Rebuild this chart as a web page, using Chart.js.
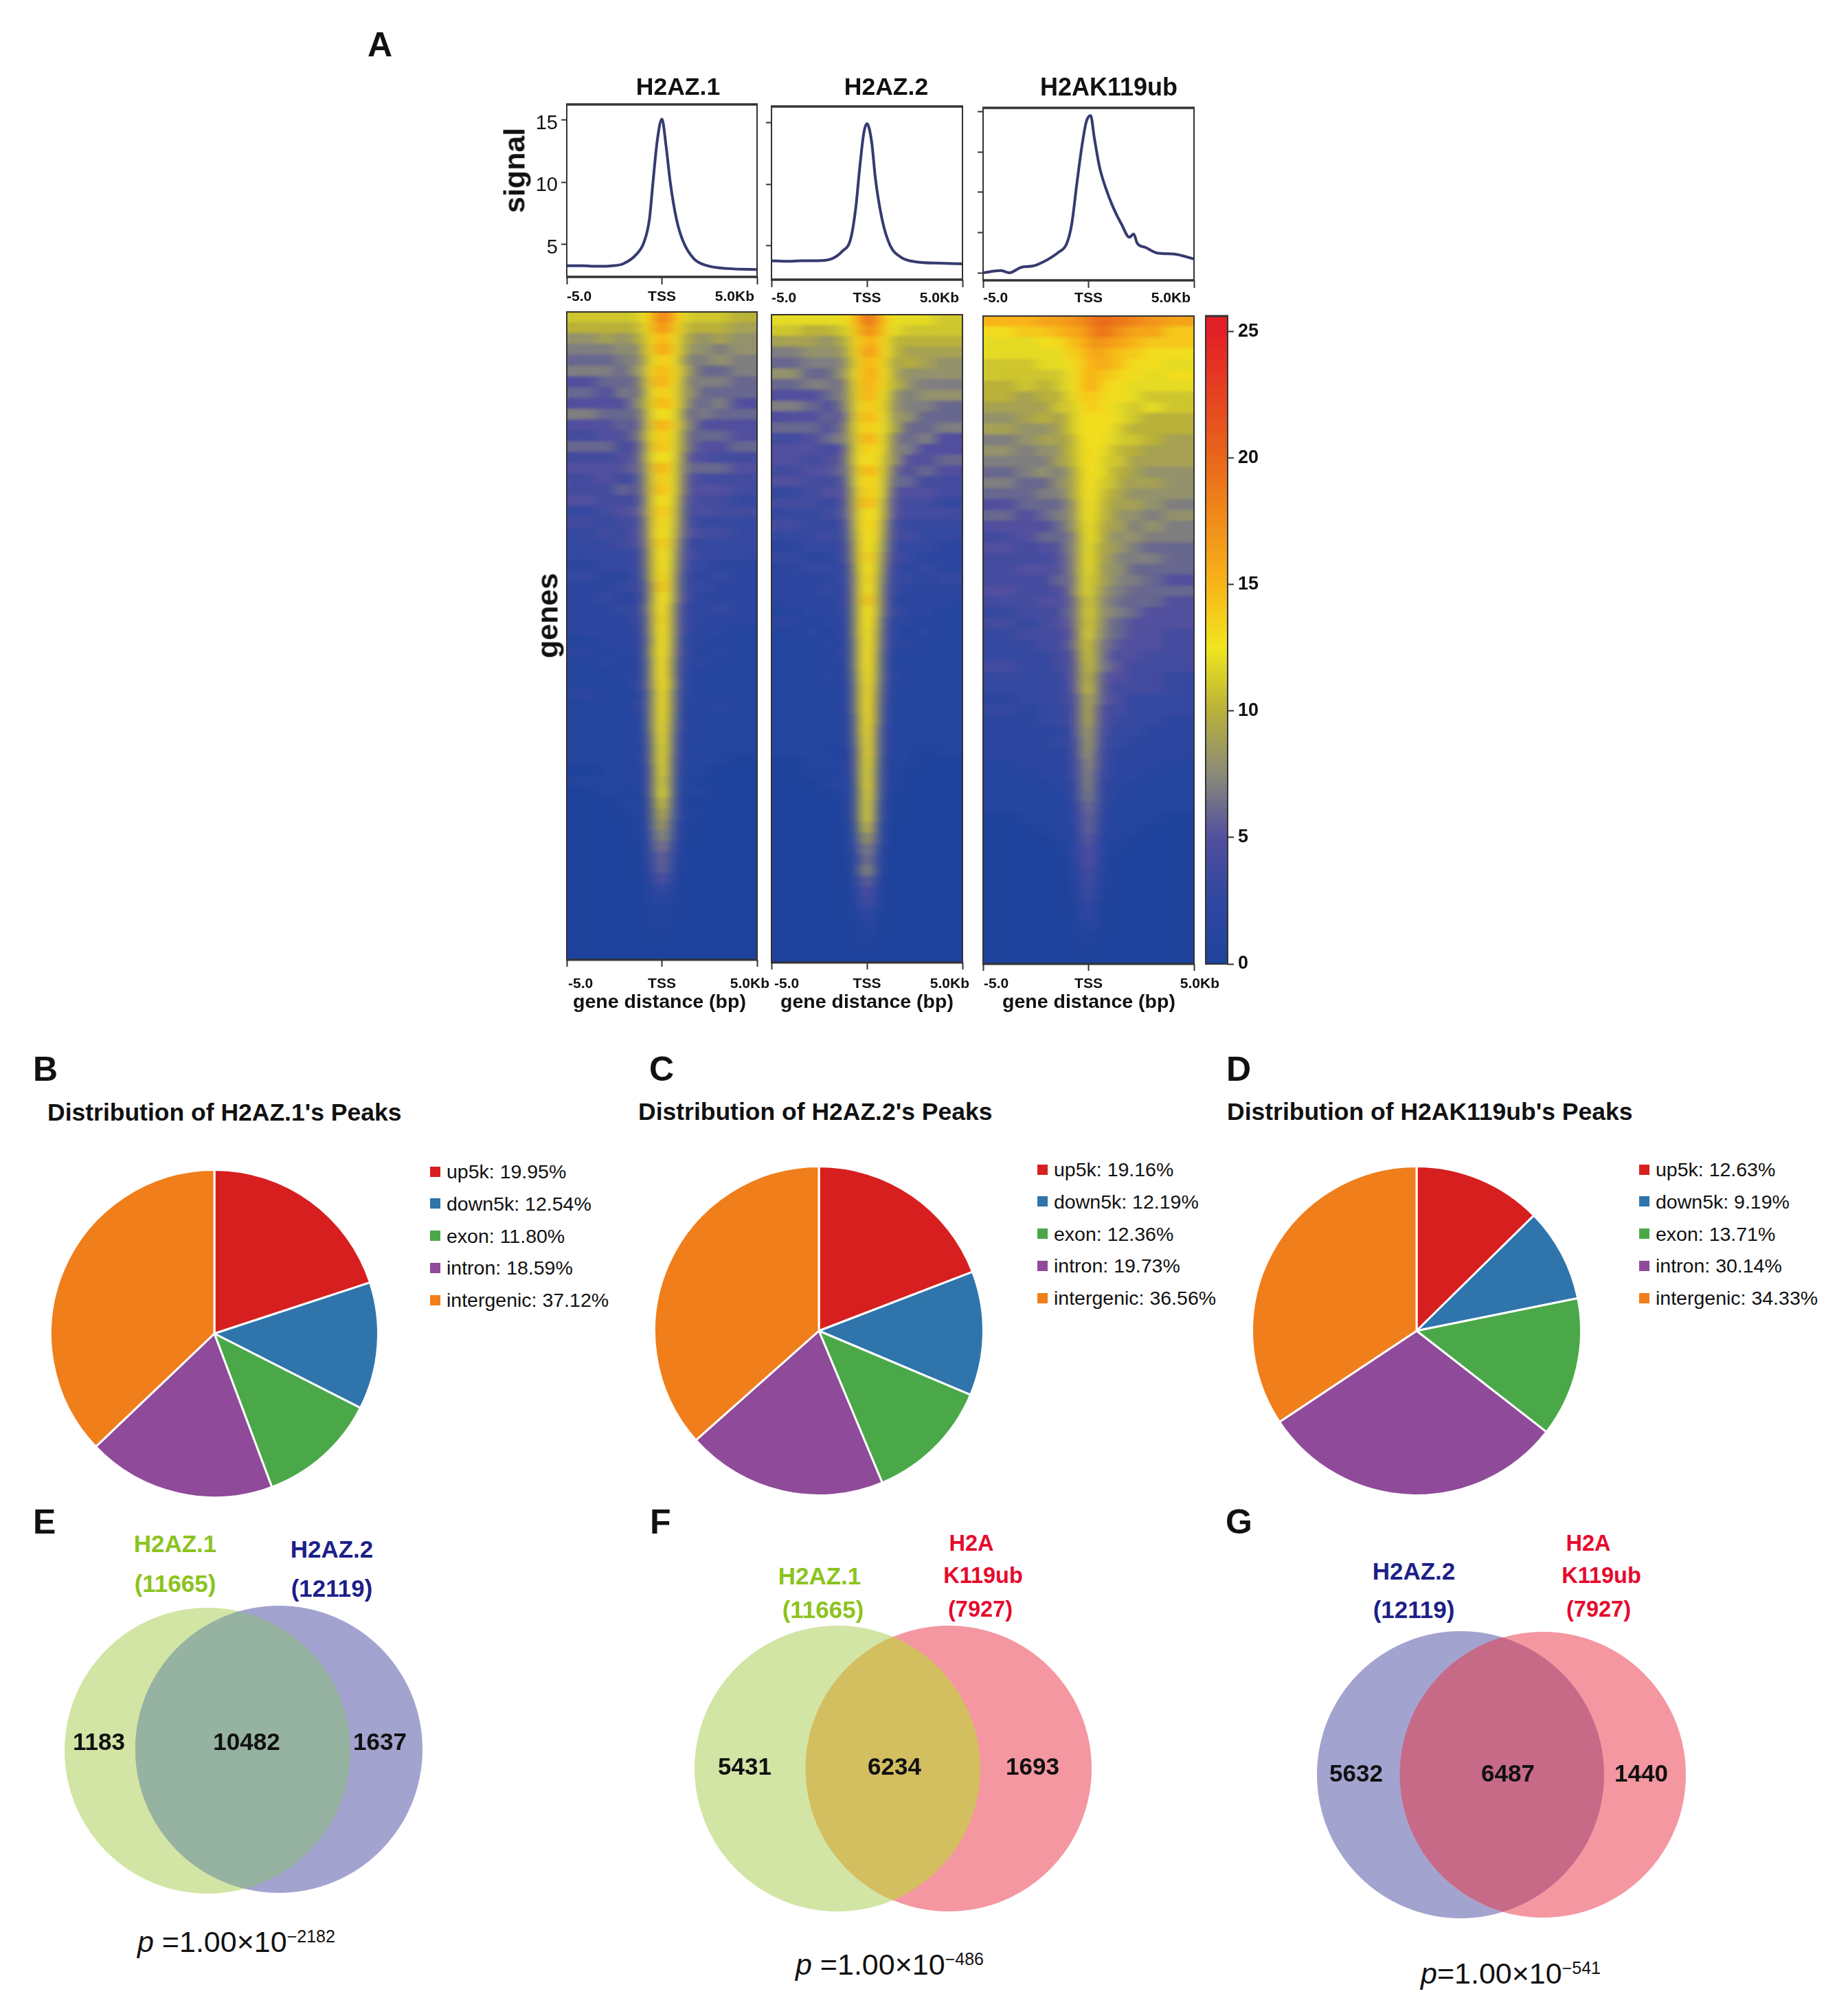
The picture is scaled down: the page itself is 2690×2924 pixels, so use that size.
<!DOCTYPE html>
<html>
<head>
<meta charset="utf-8">
<script src="https://cdn.jsdelivr.net/npm/chart.js@4"></script>
<style>
  html, body { margin: 0; background: #fff; }
  body { position: relative; width: 2690px; height: 2924px; overflow: hidden; font-family: "Liberation Sans", Arial, sans-serif; color: #111; }
  .t { position: absolute; white-space: nowrap; line-height: 1; }
  .t sup { font-size: 25px; position: relative; top: -14px; vertical-align: baseline; line-height: 0; }
  .sw { position: absolute; width: 15px; height: 15px; }
</style>
</head>
<body>
<script>
// profile plots, x in bp from the TSS
const h2az1X = [-5000,-4200,-3400,-2600,-2040,-1350,-940,-660,-470,-250,0,220,440,770,1130,1690,2380,3480,5000];
const h2az1Y = [3.3,3.3,3.25,3.3,3.45,4.2,5.2,7.0,10.0,13.3,15.1,12.9,10.0,7.0,5.2,3.85,3.3,3.07,3.0];
const h2az2X = [-5000,-4200,-3400,-2600,-1950,-1270,-850,-580,-390,-165,0,250,440,800,1210,1760,2590,3800,5000];
const h2az2Y = [3.8,3.75,3.8,3.8,3.9,4.6,5.6,8.2,11.2,14.2,14.95,13.4,10.5,7.1,5.05,4.1,3.7,3.6,3.55];
const k119X = [-5000,-4150,-3760,-3160,-2660,-2040,-1420,-1045,-800,-550,-300,-100,100,270,520,820,1190,1570,1940,2140,2310,2690,3310,4050,5000];
const k119Y = [3.0,3.17,3.0,3.43,3.5,3.9,4.54,5.14,6.6,9.7,12.6,14.3,14.73,13.1,10.9,9.3,7.8,6.6,5.65,5.9,5.2,4.9,4.46,4.4,4.03];
const xTickValues = [-5000, 0, 5000];
const xTickLabels = ['-5.0', 'TSS', '5.0Kb'];

// heatmap bins (bp edges) and cell values, one row per block of genes
const binEdges = [-5000,-3500,-2500,-1800,-1300,-1000,-750,-500,-250,0,250,500,750,1000,1300,1800,2500,3500,5000];
const h2az1Rows = [
  [11,11,11,11,12,13,14,17,18,18,17,15,13,12,11,11,11,10],
  [10,10,10,10,11,12,14,16,17,17,16,14,13,11,10,10,10,9],
  [8,9,8,9,10,11,13,14,15,15,14,13,12,10,9,8,9,8],
  [7,7,8,7,9,11,13,15,16,16,15,13,12,10,8,8,7,8],
  [6,6,7,7,8,10,12,13,14,14,13,13,11,9,7,7,8,7],
  [7,7,6,8,8,11,13,14,15,15,14,13,12,10,8,6,6,7],
  [5,6,6,6,8,10,13,15,16,15,14,13,12,9,7,7,7,6],
  [6,5,7,6,7,10,12,13,14,14,13,13,11,9,8,6,6,6],
  [5,5,5,7,8,10,12,14,15,15,14,13,12,9,7,6,7,5],
  [7,6,6,6,7,9,12,13,13,13,13,12,11,8,6,7,6,6],
  [5,5,6,5,7,9,12,14,16,15,14,13,11,9,7,5,5,5],
  [4,5,5,6,7,10,12,13,14,14,13,12,11,8,6,6,6,5],
  [6,6,4,5,6,9,12,14,15,14,13,12,10,9,6,5,5,6],
  [4,4,5,5,7,9,12,13,13,13,13,12,10,8,5,5,4,4],
  [5,5,5,6,6,8,12,14,16,15,13,12,10,7,6,6,6,5],
  [4,5,4,4,6,8,11,13,14,14,13,12,10,7,5,4,4,4],
  [4,4,6,5,6,8,11,14,15,14,13,12,10,7,5,5,5,4],
  [5,4,4,4,5,8,11,13,13,13,13,12,9,6,5,4,4,3],
  [3,4,5,5,6,8,11,14,14,14,13,11,9,6,4,5,4,4],
  [4,3,4,4,5,7,11,13,14,13,12,11,9,6,4,3,3,3],
  [3,4,3,5,5,7,11,13,13,13,12,11,8,6,5,4,4,3],
  [3,3,4,4,5,7,10,13,14,14,12,10,8,5,3,3,3,3],
  [3,3,3,3,4,6,10,13,13,13,12,10,7,5,4,3,3,3],
  [2,3,3,3,4,6,10,12,13,13,12,9,7,5,3,3,2,2],
  [3,2,2,3,3,6,10,12,14,13,12,9,6,4,3,2,3,2],
  [2,2,3,3,4,5,9,12,15,14,12,9,6,4,3,3,2,2],
  [2,3,2,2,3,5,9,12,13,13,12,9,6,5,3,2,2,2],
  [2,2,3,2,4,6,9,12,13,13,11,8,5,4,2,2,3,2],
  [2,2,2,3,3,5,9,12,14,13,11,8,5,3,3,2,2,2],
  [2,2,2,2,3,5,9,12,13,13,11,8,5,4,2,2,2,1],
  [1,2,2,2,3,4,8,12,13,13,11,8,4,3,2,2,1,1],
  [2,1,2,2,2,5,9,12,13,13,11,7,5,4,2,1,2,1],
  [1,2,1,2,2,4,8,12,13,13,10,7,4,3,2,2,1,1],
  [1,1,2,1,2,4,8,12,13,13,10,7,4,2,2,1,1,1],
  [1,1,1,2,3,5,8,11,13,13,11,7,4,3,1,1,1,1],
  [2,1,1,1,2,3,7,11,13,12,10,6,4,2,2,1,1,1],
  [1,1,1,2,2,4,7,11,13,13,10,6,4,2,1,1,2,1],
  [1,1,1,1,2,3,7,11,13,12,10,6,3,2,1,1,1,1],
  [1,1,1,1,1,3,7,11,13,12,9,6,4,2,1,1,1,1],
  [1,1,1,1,2,3,6,11,13,12,9,5,3,2,1,1,1,1],
  [1,1,1,1,1,2,6,10,12,12,9,5,3,1,1,1,1,1],
  [1,1,1,1,1,3,6,10,13,12,8,5,3,2,1,1,1,0],
  [0,1,1,1,1,2,5,10,12,12,8,4,3,1,1,1,0,0],
  [1,1,1,1,1,2,5,10,12,11,8,4,2,1,1,0,0,0],
  [0,1,1,0,1,2,5,10,12,12,8,4,2,1,1,1,0,0],
  [0,0,1,1,1,1,4,9,11,11,7,4,2,1,0,0,0,0],
  [0,0,0,1,1,1,4,8,10,10,7,4,2,1,1,0,0,0],
  [0,0,0,0,1,1,4,8,9,9,6,3,2,1,0,0,0,0],
  [0,0,0,0,1,1,3,7,8,8,6,3,1,1,0,0,0,0],
  [0,0,0,0,0,1,3,6,7,7,5,3,1,0,0,0,0,0],
  [0,0,0,0,0,1,3,5,6,6,4,2,1,0,0,0,0,0],
  [0,0,0,0,0,1,2,5,6,6,3,2,1,0,0,0,0,0],
  [0,0,0,0,0,0,2,4,5,5,3,1,0,0,0,0,0,0],
  [0,0,0,0,0,0,1,3,3,3,2,1,0,0,0,0,0,0],
  [0,0,0,0,0,0,1,2,2,2,1,0,0,0,0,0,0,0],
  [0,0,0,0,0,0,0,1,1,1,1,0,0,0,0,0,0,0],
  [0,0,0,0,0,0,0,1,1,1,0,0,0,0,0,0,0,0],
  [0,0,0,0,0,0,0,0,1,0,0,0,0,0,0,0,0,0],
  [0,0,0,0,0,0,0,0,0,0,0,0,0,0,0,0,0,0],
  [0,0,0,0,0,0,0,0,0,0,0,0,0,0,0,0,0,0]
];
const h2az2Rows = [
  [12,12,12,12,13,13,15,17,19,19,18,16,14,13,12,12,12,11],
  [11,10,10,11,11,12,14,16,17,18,17,15,14,12,12,11,11,11],
  [9,9,8,9,10,11,13,14,15,16,15,14,13,12,10,10,10,10],
  [7,8,8,8,9,11,13,15,16,17,16,14,13,12,10,9,9,9],
  [6,7,7,7,8,10,12,14,15,15,14,14,13,11,9,10,9,8],
  [8,6,6,8,8,11,13,14,15,16,15,14,13,12,9,8,8,8],
  [6,7,7,6,8,10,12,14,15,16,14,14,13,11,10,8,7,7],
  [5,5,6,7,7,10,12,14,15,16,14,13,12,11,8,7,8,8],
  [7,6,5,6,8,9,12,13,14,14,14,13,12,10,8,7,7,6],
  [5,5,6,5,7,9,12,14,15,15,14,13,12,11,8,8,6,6],
  [6,6,5,6,7,10,12,13,14,14,13,13,12,11,9,6,6,7],
  [4,5,6,7,7,9,12,14,15,16,14,13,12,10,7,6,7,5],
  [5,5,4,5,6,9,12,13,14,14,13,13,12,10,7,7,5,5],
  [5,4,5,5,7,9,12,13,13,13,13,13,11,9,8,5,5,6],
  [4,5,5,6,6,8,12,14,15,15,14,13,11,9,6,5,6,5],
  [5,4,4,4,6,8,12,13,13,14,13,13,11,8,6,6,4,4],
  [3,4,5,5,5,8,11,13,14,14,13,13,11,8,5,5,5,4],
  [4,4,3,4,5,8,11,14,15,15,13,12,10,7,5,4,4,3],
  [3,3,4,4,6,7,11,13,13,13,13,12,10,7,5,4,4,4],
  [4,3,3,3,5,7,11,13,13,14,13,12,9,6,4,3,3,3],
  [3,3,4,3,4,7,10,13,13,13,13,11,9,6,4,4,3,3],
  [2,3,3,3,4,6,10,13,13,13,12,11,8,6,3,3,3,2],
  [3,2,2,3,4,6,10,13,14,14,12,10,8,5,4,3,2,2],
  [2,3,3,2,3,5,10,12,13,13,12,10,7,5,3,2,3,2],
  [2,2,2,3,3,5,9,12,13,14,12,9,7,4,3,3,2,3],
  [2,2,3,2,3,5,9,12,13,13,12,9,6,4,3,2,2,2],
  [2,2,2,2,3,5,9,12,14,15,12,9,6,4,2,2,2,2],
  [1,2,2,2,3,4,9,12,13,13,12,9,6,4,3,2,2,1],
  [2,1,2,2,2,4,9,12,13,13,12,8,5,3,2,2,1,1],
  [1,2,1,2,2,4,9,12,13,13,11,8,5,3,2,1,2,1],
  [1,1,2,1,2,4,8,12,13,13,11,8,5,3,2,2,1,1],
  [1,1,1,2,3,3,8,12,13,13,11,7,4,3,1,1,1,1],
  [1,1,1,1,2,4,8,12,13,13,11,7,4,2,1,1,1,1],
  [1,1,2,1,2,3,8,11,13,13,11,7,4,3,2,1,1,1],
  [1,1,1,1,2,3,7,11,13,13,10,7,4,2,1,1,1,1],
  [1,1,1,1,1,3,7,11,13,13,10,6,4,2,1,1,1,1],
  [1,1,1,1,2,3,7,11,13,13,10,6,3,2,1,1,1,1],
  [1,1,1,1,1,2,6,11,13,13,10,6,3,2,1,1,1,1],
  [1,1,1,1,1,3,6,11,13,13,9,5,3,2,1,1,1,1],
  [1,1,1,1,1,2,6,10,12,13,9,5,3,1,1,1,1,1],
  [1,1,1,0,1,2,5,10,13,13,9,5,3,1,1,1,0,1],
  [0,1,1,1,1,2,5,10,12,12,9,4,2,1,1,1,0,0],
  [0,1,0,1,1,2,5,10,12,12,8,4,2,1,1,0,0,0],
  [0,0,1,1,1,1,4,10,12,13,8,4,2,1,1,0,0,0],
  [0,0,0,1,1,1,4,9,12,12,8,4,2,1,0,0,0,0],
  [0,0,0,0,1,1,4,9,12,12,7,3,1,1,0,0,0,0],
  [0,0,0,0,1,1,4,9,12,12,7,3,1,1,0,0,0,0],
  [0,0,0,0,0,1,3,8,11,11,6,3,1,0,0,0,0,0],
  [0,0,0,0,0,1,3,7,9,9,6,3,1,0,0,0,0,0],
  [0,0,0,0,0,1,3,6,7,8,5,2,1,0,0,0,0,0],
  [0,0,0,0,0,0,2,5,7,7,4,2,0,0,0,0,0,0],
  [0,0,0,0,0,0,2,6,8,8,4,2,0,0,0,0,0,0],
  [0,0,0,0,0,0,2,4,6,6,3,1,0,0,0,0,0,0],
  [0,0,0,0,0,0,1,3,5,5,2,1,0,0,0,0,0,0],
  [0,0,0,0,0,0,1,3,4,4,2,1,0,0,0,0,0,0],
  [0,0,0,0,0,0,1,2,2,3,1,0,0,0,0,0,0,0],
  [0,0,0,0,0,0,0,1,2,2,1,0,0,0,0,0,0,0],
  [0,0,0,0,0,0,0,1,1,1,0,0,0,0,0,0,0,0],
  [0,0,0,0,0,0,0,0,1,0,0,0,0,0,0,0,0,0],
  [0,0,0,0,0,0,0,0,0,0,0,0,0,0,0,0,0,0]
];
const k119Rows = [
  [15,15,16,16,17,17,17,18,18,19,19,20,20,19,19,18,17,16],
  [13,14,14,15,15,16,16,16,17,18,19,19,19,18,17,16,16,14],
  [12,12,13,13,14,14,15,15,16,17,17,17,17,16,16,15,14,14],
  [12,12,12,12,13,14,14,14,15,16,16,16,15,15,14,14,13,13],
  [11,11,12,12,12,13,13,14,15,15,15,16,15,15,14,13,13,12],
  [11,11,11,11,12,12,13,14,15,15,15,14,14,14,13,13,12,13],
  [10,11,10,11,12,12,13,14,15,16,14,14,13,13,13,12,12,12],
  [10,9,10,10,11,12,13,14,14,14,14,13,13,13,13,12,11,11],
  [9,9,9,11,11,11,12,13,13,15,13,13,13,12,12,11,12,11],
  [8,9,10,9,10,11,12,13,13,13,13,13,13,13,12,11,10,10],
  [9,8,8,9,10,11,12,13,13,13,13,13,13,12,11,10,10,10],
  [7,8,9,9,9,10,11,13,13,13,13,13,12,12,11,11,10,9],
  [8,7,8,8,10,10,11,12,13,13,13,12,12,11,10,10,9,9],
  [7,7,7,9,9,10,11,12,13,13,13,12,11,11,11,9,9,9],
  [6,7,8,7,8,9,10,12,13,13,12,12,12,10,10,9,8,8],
  [7,6,6,8,8,9,10,12,13,13,12,11,11,11,9,9,9,8],
  [6,6,7,7,8,9,10,12,13,12,12,11,10,10,9,8,8,8],
  [5,6,6,6,7,8,9,12,13,13,11,11,10,9,9,9,8,7],
  [6,5,6,7,7,8,9,12,13,12,11,11,10,9,8,8,7,8],
  [5,5,5,6,7,8,9,11,13,12,11,10,9,9,9,7,8,7],
  [4,5,6,6,6,7,8,11,13,12,11,10,9,8,8,8,7,7],
  [5,4,5,5,7,7,8,11,12,12,10,9,9,9,8,7,6,6],
  [4,4,4,5,6,7,8,11,13,12,10,9,9,8,7,7,7,6],
  [4,5,5,5,6,7,8,11,12,12,10,9,8,8,8,6,6,6],
  [4,4,4,6,6,6,8,11,12,11,10,9,9,8,7,7,6,5],
  [5,4,4,5,5,7,8,11,12,11,9,9,8,7,7,6,6,6],
  [4,4,5,5,5,6,7,10,11,11,9,8,7,7,6,6,6,5],
  [3,4,4,4,6,6,7,10,12,11,9,8,8,7,7,6,5,5],
  [4,3,4,5,5,6,7,10,11,11,9,8,7,6,6,5,5,5],
  [3,4,4,4,5,5,7,10,12,11,8,8,7,6,6,5,5,4],
  [3,3,4,4,5,6,7,10,11,10,8,7,6,6,5,5,5,4],
  [3,3,3,4,4,5,6,10,11,10,8,7,6,5,5,5,4,4],
  [4,3,3,4,4,5,6,9,11,10,8,7,6,6,5,4,4,4],
  [3,3,3,3,4,5,6,9,10,10,7,6,5,5,5,4,4,3],
  [3,3,3,3,3,5,6,9,11,10,7,6,5,4,4,4,4,3],
  [2,3,3,3,4,4,5,8,10,9,7,6,5,5,4,3,3,3],
  [3,2,3,3,3,4,5,8,10,9,6,5,4,4,4,3,3,3],
  [2,2,3,3,3,4,5,8,10,9,6,5,4,4,3,3,3,2],
  [2,2,2,2,3,3,5,8,9,8,6,5,4,3,3,3,2,2],
  [2,2,2,3,3,3,4,7,9,8,6,4,3,3,3,2,2,2],
  [2,2,2,2,2,3,4,7,9,8,5,4,3,3,2,2,2,2],
  [1,2,2,2,2,3,4,6,8,8,5,4,3,2,2,2,2,1],
  [1,1,2,2,2,3,4,6,8,7,5,3,3,2,2,2,1,1],
  [1,1,1,2,2,2,3,6,8,7,4,3,2,2,2,1,1,1],
  [1,1,1,1,1,2,3,6,7,7,4,3,2,2,1,1,1,1],
  [1,1,1,1,1,2,3,5,7,6,4,3,2,1,1,1,1,1],
  [0,1,1,1,1,1,3,5,6,6,4,2,2,1,1,1,1,0],
  [0,0,1,1,1,1,2,5,6,6,3,2,1,1,1,1,0,0],
  [0,0,0,1,1,1,2,4,6,5,3,2,1,1,1,0,0,0],
  [0,0,0,0,1,1,2,4,5,5,3,1,1,1,0,0,0,0],
  [0,0,0,0,0,1,2,4,5,5,3,1,1,0,0,0,0,0],
  [0,0,0,0,0,1,1,3,5,4,2,1,1,0,0,0,0,0],
  [0,0,0,0,0,0,1,3,4,4,2,1,0,0,0,0,0,0],
  [0,0,0,0,0,0,1,3,4,3,2,1,0,0,0,0,0,0],
  [0,0,0,0,0,0,1,2,3,3,1,0,0,0,0,0,0,0],
  [0,0,0,0,0,0,0,2,3,2,1,0,0,0,0,0,0,0],
  [0,0,0,0,0,0,0,1,2,2,1,0,0,0,0,0,0,0],
  [0,0,0,0,0,0,0,1,1,1,0,0,0,0,0,0,0,0],
  [0,0,0,0,0,0,0,0,1,0,0,0,0,0,0,0,0,0],
  [0,0,0,0,0,0,0,0,0,0,0,0,0,0,0,0,0,0]
];

// pies
const peakCategories = ['up5k', 'down5k', 'exon', 'intron', 'intergenic'];
const peaksH2az1 = [19.95, 12.54, 11.80, 18.59, 37.12];
const peaksH2az2 = [19.16, 12.19, 12.36, 19.73, 36.56];
const peaksK119 = [12.63, 9.19, 13.71, 30.14, 34.33];
const peakColors = ['#d71f1f', '#2f75ac', '#4aa848', '#8f4a99', '#f07e1b'];

// venn counts
const vennTotals = [[11665, 12119], [11665, 7927], [12119, 7927]];
const vennOnlyLeft = [1183, 5431, 5632];
const vennShared = [10482, 6234, 6487];
const vennOnlyRight = [1637, 1693, 1440];

const colorStops = [[0,'#1f439c'],[2.5,'#2f47a0'],[5,'#524f9f'],[7.5,'#8a8a78'],[10,'#b9b13a'],[12.5,'#f0e61f'],[15,'#f8b418'],[20,'#e9661b'],[25,'#e31f26']];

const FONT = '"Liberation Sans", Arial, sans-serif';
const PAD = 60;

function hexRgb(h) { return [1, 3, 5].map(i => parseInt(h.substr(i, 2), 16)); }
function colorOf(v) {
  for (let i = 1; i < colorStops.length; i++) {
    if (v <= colorStops[i][0]) {
      const [v0, c0] = colorStops[i - 1], [v1, c1] = colorStops[i];
      const f = (v - v0) / (v1 - v0), a = hexRgb(c0), b = hexRgb(c1);
      return `rgb(${a.map((x, k) => Math.round(x + (b[k] - x) * f)).join(',')})`;
    }
  }
  return colorStops[colorStops.length - 1][1];
}

function addCanvas(x, y, w, h) {
  const c = document.createElement('canvas');
  c.width = w; c.height = h;
  c.style.cssText = `position:absolute;left:${x}px;top:${y}px;width:${w}px;height:${h}px`;
  document.body.appendChild(c);
  return c;
}
// canvas with PAD room round the plot box, so chartArea lands exactly on the box
function plotCanvas(b) { return addCanvas(b.x - PAD, b.y - PAD, b.w + 2 * PAD, b.h + 2 * PAD); }

function text(html, x, y, o = {}) {
  const s = document.createElement('div');
  s.className = 't';
  s.innerHTML = html;
  const ax = o.align === 'left' ? '0' : o.align === 'right' ? '-100%' : '-50%';
  s.style.cssText = `left:${x}px;top:${y}px;font-size:${o.size || 35}px;font-weight:${o.weight || 'bold'};color:${o.color || '#111'};transform:translate(${ax},-50%)${o.rotate ? ' rotate(-90deg)' : ''}`;
  document.body.appendChild(s);
}

const framePlugin = {
  id: 'frame',
  afterDraw(chart, args, o) {
    const { ctx, chartArea: a } = chart;
    ctx.save();
    ctx.strokeStyle = o.color;
    ctx.lineWidth = o.side;
    ctx.beginPath();
    ctx.moveTo(a.left, a.top); ctx.lineTo(a.left, a.bottom);
    ctx.moveTo(a.right, a.top); ctx.lineTo(a.right, a.bottom);
    ctx.stroke();
    ctx.lineWidth = o.top;
    ctx.beginPath(); ctx.moveTo(a.left - 1, a.top); ctx.lineTo(a.right + 1, a.top); ctx.stroke();
    ctx.lineWidth = o.bottom;
    ctx.beginPath(); ctx.moveTo(a.left - 1, a.bottom); ctx.lineTo(a.right + 1, a.bottom); ctx.stroke();
    ctx.restore();
  }
};
// x tick labels sit off their ticks in the figure, so they get their own offsets
const edgeLabels = {
  id: 'edgeLabels',
  afterDraw(chart, args, o) {
    const { ctx, scales: { x } } = chart;
    ctx.save();
    ctx.font = 'bold 21px ' + FONT;
    ctx.fillStyle = '#111';
    ctx.textBaseline = 'middle';
    xTickValues.forEach((v, i) => {
      ctx.textAlign = ['left', 'center', 'right'][i];
      ctx.fillText(xTickLabels[i], x.getPixelForValue(v) + o.dx[i], chart.chartArea.bottom + o.dy);
    });
    ctx.restore();
  }
};
// soften the cells like the scanned heatmap, more along the rows than across them
const softCells = {
  id: 'softCells',
  afterDatasetsDraw(chart) {
    const { ctx, chartArea: a, canvas } = chart;
    const off = document.createElement('canvas');
    off.width = Math.ceil(a.width / 4);
    off.height = a.height;
    const o = off.getContext('2d');
    o.filter = 'blur(2px)';
    o.drawImage(canvas, a.left, a.top, a.width, a.height, 0, 0, off.width, off.height);
    ctx.save();
    ctx.beginPath(); ctx.rect(a.left, a.top, a.width, a.height); ctx.clip();
    ctx.drawImage(off, a.left, a.top, a.width, a.height);
    ctx.restore();
  }
};

const fixedX = { afterBuildTicks: s => { s.ticks = xTickValues.map(value => ({ value })); }, afterFit: s => { s.height = PAD; } };

function profileChart(b, xs, ys, yr, yTicks, showY, dx) {
  new Chart(plotCanvas(b), {
    type: 'line',
    data: { datasets: [{ data: xs.map((x, i) => ({ x, y: ys[i] })), borderColor: '#353b70', borderWidth: 4, pointRadius: 0, cubicInterpolationMode: 'monotone' }] },
    options: {
      responsive: false, animation: false, events: [],
      layout: { padding: { top: PAD, right: PAD } },
      plugins: { legend: { display: false }, tooltip: { enabled: false }, frame: { color: '#333', side: 2, top: 3.5, bottom: 3.5 }, edgeLabels: { dx, dy: b.labelDy } },
      scales: {
        x: { type: 'linear', min: -5000, max: 5000, ...fixedX, ticks: { display: false }, border: { display: false },
             grid: { drawOnChartArea: false, tickLength: 11, tickWidth: 2, tickColor: '#333' } },
        y: { min: yr[0], max: yr[1], afterBuildTicks: s => { s.ticks = yTicks.map(value => ({ value })); }, afterFit: s => { s.width = PAD; },
             border: { display: false },
             ticks: { display: showY, padding: 5, labelOffset: 5, color: '#111', font: { family: FONT, size: 29 }, autoSkip: false },
             grid: { drawOnChartArea: false, tickLength: 8, tickWidth: 2, tickColor: '#333' } }
      }
    },
    plugins: [framePlugin, edgeLabels]
  });
}

function heatChart(b, rows, dx, dy) {
  const datasets = binEdges.slice(0, -1).map((e, c) => ({
    data: rows.map(() => [e, binEdges[c + 1]]),
    backgroundColor: rows.map(r => colorOf(r[c])),
    borderWidth: 0, inflateAmount: 0.6, barPercentage: 1, categoryPercentage: 1, grouped: false
  }));
  new Chart(plotCanvas(b), {
    type: 'bar',
    data: { labels: rows.map((r, i) => i + 1), datasets },
    options: {
      indexAxis: 'y', responsive: false, animation: false, events: [],
      layout: { padding: { top: PAD, right: PAD, left: PAD } },
      plugins: { legend: { display: false }, tooltip: { enabled: false }, frame: { color: '#333', side: 2, top: 2, bottom: 3 }, edgeLabels: { dx, dy } },
      scales: {
        x: { type: 'linear', min: -5000, max: 5000, ...fixedX, z: 1, ticks: { display: false }, border: { display: false },
             grid: { drawOnChartArea: false, tickLength: 10, tickWidth: 2, tickColor: '#333' } },
        y: { display: false }
      }
    },
    plugins: [softCells, framePlugin, edgeLabels]
  });
}

// A: profiles
const boxes = [
  { x: 825, y: 152, w: 277, h: 251, labelDy: 29 },
  { x: 1123, y: 155, w: 278, h: 252, labelDy: 27 },
  { x: 1431, y: 157, w: 307, h: 251, labelDy: 26 }
];
profileChart(boxes[0], h2az1X, h2az1Y, [2.4, 16.27], [5, 10, 15], true, [0, 0, -4]);
profileChart(boxes[1], h2az2X, h2az2Y, [2.26, 16.34], [5, 10, 15], false, [0, 0, -5]);
profileChart(boxes[2], k119X, k119Y, [2.44, 15.3], [3, 6, 9, 12, 15], false, [0, 0, -5]);

// A: heatmaps
heatChart({ x: 825, y: 454, w: 277, h: 943 }, h2az1Rows, [2, 0, 18], 35);
heatChart({ x: 1123, y: 458, w: 278, h: 943 }, h2az2Rows, [4, 0, 10], 31);
heatChart({ x: 1431, y: 460, w: 307, h: 943 }, k119Rows, [1, 0, 37], 29);

// A: colour key
const keyBox = { x: 1755, y: 460, w: 32, h: 943 };
new Chart(plotCanvas(keyBox), {
  type: 'bar',
  data: { labels: ['signal'], datasets: [{ data: [[0, 25.6]], barPercentage: 1, categoryPercentage: 1, borderWidth: 0,
    backgroundColor: c => {
      const a = c.chart.chartArea, y = c.chart.scales.y;
      if (!a) return '#1f439c';
      const g = c.chart.ctx.createLinearGradient(0, y.getPixelForValue(0), 0, y.getPixelForValue(25));
      colorStops.forEach(([v, col]) => g.addColorStop(v / 25, col));
      return g;
    } }] },
  options: {
    responsive: false, animation: false, events: [],
    layout: { padding: { top: PAD, left: PAD, bottom: PAD } },
    plugins: { legend: { display: false }, tooltip: { enabled: false }, frame: { color: '#333', side: 2, top: 3, bottom: 2 } },
    scales: {
      x: { display: false },
      y: { position: 'right', min: 0, max: 25.6, afterFit: s => { s.width = PAD; }, border: { display: false },
           afterBuildTicks: s => { s.ticks = [0, 5, 10, 15, 20, 25].map(value => ({ value })); },
           ticks: { color: '#111', padding: 6, font: { family: FONT, size: 27, weight: 'bold' } },
           grid: { drawOnChartArea: false, tickLength: 9, tickWidth: 2, tickColor: '#333' } }
    }
  },
  plugins: [framePlugin]
});

text('A', 553, 65, { size: 50 });
text('H2AZ.1', 987, 127, { size: 35.5 });
text('H2AZ.2', 1290, 127, { size: 35.5 });
text('H2AK119ub', 1614, 127, { size: 36 });
text('signal', 749, 248, { size: 43, rotate: true });
text('genes', 797, 896, { size: 43, rotate: true });
text('gene distance (bp)', 960, 1457, { size: 28.5 });
text('gene distance (bp)', 1262, 1457, { size: 28.5 });
text('gene distance (bp)', 1585, 1457, { size: 28.5 });

// B, C, D: pies with their legend column
function pie(cx, cy, r, values, colors, bw) {
  const size = 2 * r + 20;
  const c = addCanvas(cx - size / 2, cy - size / 2, size, size);
  new Chart(c, {
    type: 'pie',
    data: { labels: values.map(String), datasets: [{ data: values, backgroundColor: colors, borderColor: '#fff', borderWidth: bw, radius: r + bw / 2 }] },
    options: { responsive: false, animation: false, events: [], plugins: { legend: { display: false }, tooltip: { enabled: false } } }
  });
  return c;
}
const piePanels = [
  { letter: 'B', lx: 48, ly: 1556, title: "Distribution of H2AZ.1's Peaks", tx: 69, ty: 1620, values: peaksH2az1, cx: 312, cy: 1941, legX: 626, legY: 1705, r: 237 },
  { letter: 'C', lx: 945, ly: 1556, title: "Distribution of H2AZ.2's Peaks", tx: 929, ty: 1619, values: peaksH2az2, cx: 1191.5, cy: 1937, legX: 1510, legY: 1702, r: 238 },
  { letter: 'D', lx: 1785, ly: 1556, title: "Distribution of H2AK119ub's Peaks", tx: 1786, ty: 1619, values: peaksK119, cx: 2062, cy: 1937, legX: 2386, legY: 1702, r: 238 }
];
piePanels.forEach(p => {
  text(p.letter, p.lx, p.ly, { size: 50, align: 'left' });
  text(p.title, p.tx, p.ty, { size: 35.5, align: 'left' });
  pie(p.cx, p.cy, p.r, p.values, peakColors, 3);
  peakCategories.forEach((cat, i) => {
    const y = p.legY + i * 46.8;
    const sw = document.createElement('div');
    sw.className = 'sw';
    sw.style.cssText += `;left:${p.legX}px;top:${y - 7.5}px;background:${peakColors[i]}`;
    document.body.appendChild(sw);
    text(`${cat}: ${p.values[i].toFixed(2)}%`, p.legX + 24, y, { size: 28.5, weight: 'normal', align: 'left' });
  });
});

// E, F, G: venn circles are one-slice pies, the overlap is a pie clipped by the other circle
const LIME = '#d2e5a4', PERI = '#a3a3cf', PINK = '#f497a1';
const LIME_T = '#8cc31f', NAVY_T = '#1d2088', RED_T = '#e60a2d';
const vennPanels = [
  { a: [301.5, 2548, 208], b: [406, 2546, 209], ca: LIME, cb: PERI, cm: '#96b2a0',
    nums: [[144, 2534], [359, 2534], [553, 2534]] },
  { a: [1218.5, 2574, 208], b: [1380.5, 2574, 208], ca: LIME, cb: PINK, cm: '#d3be60',
    nums: [[1084, 2570], [1302, 2570], [1503, 2570]] },
  { a: [2125.5, 2582.5, 209], b: [2245.5, 2582.5, 208], ca: PERI, cb: PINK, cm: '#c76a88',
    nums: [[1974, 2580], [2195, 2580], [2389, 2580]] }
];
vennPanels.forEach((v, i) => {
  pie(v.a[0], v.a[1], v.a[2], [vennTotals[i][0]], [v.ca], 0);
  pie(v.b[0], v.b[1], v.b[2], [vennTotals[i][1]], [v.cb], 0);
  const m = pie(v.a[0], v.a[1], v.a[2], [vennShared[i]], [v.cm], 0);
  const left = parseFloat(m.style.left), top = parseFloat(m.style.top);
  m.style.clipPath = `circle(${v.b[2]}px at ${v.b[0] - left}px ${v.b[1] - top}px)`;
  [vennOnlyLeft[i], vennShared[i], vennOnlyRight[i]].forEach((n, k) => text(String(n), v.nums[k][0], v.nums[k][1], { size: 35 }));
});
text('E', 48, 2215, { size: 50, align: 'left' });
text('F', 946, 2215, { size: 50, align: 'left' });
text('G', 1784, 2215, { size: 50, align: 'left' });

text('H2AZ.1', 255, 2246, { color: LIME_T });
text(`(${vennTotals[0][0]})`, 255, 2304, { color: LIME_T });
text('H2AZ.2', 483, 2254, { color: NAVY_T });
text(`(${vennTotals[0][1]})`, 483, 2311, { color: NAVY_T });
text('H2AZ.1', 1193, 2293, { color: LIME_T });
text(`(${vennTotals[1][0]})`, 1198, 2342, { color: LIME_T });
text('H2A', 1414, 2246, { color: RED_T, size: 32.5 });
text('K119ub', 1431, 2293, { color: RED_T, size: 32.5 });
text(`(${vennTotals[1][1]})`, 1427, 2342, { color: RED_T, size: 32.5 });
text('H2AZ.2', 2058, 2286, { color: NAVY_T });
text(`(${vennTotals[2][0]})`, 2058, 2342, { color: NAVY_T });
text('H2A', 2312, 2246, { color: RED_T, size: 32.5 });
text('K119ub', 2331, 2293, { color: RED_T, size: 32.5 });
text(`(${vennTotals[2][1]})`, 2327, 2342, { color: RED_T, size: 32.5 });

text('<i>p</i> =1.00×10<sup>−2182</sup>', 200, 2826, { size: 43, weight: 'normal', align: 'left' });
text('<i>p</i> =1.00×10<sup>−486</sup>', 1158, 2859, { size: 43, weight: 'normal', align: 'left' });
text('<i>p</i>=1.00×10<sup>−541</sup>', 2068, 2872, { size: 43, weight: 'normal', align: 'left' });
</script>
</body>
</html>
